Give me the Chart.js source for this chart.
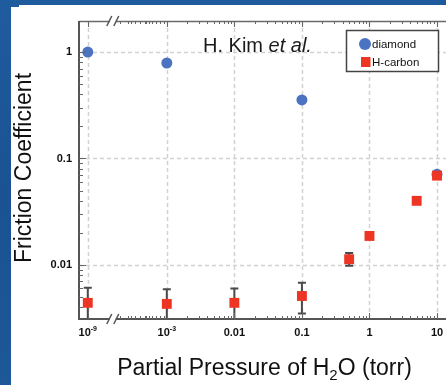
<!DOCTYPE html>
<html>
<head>
<meta charset="utf-8">
<script src="https://cdn.jsdelivr.net/npm/chart.js@4/dist/chart.umd.min.js"></script>
<style>
  html, body { margin: 0; padding: 0; background: #fff; }
  #wrap { width: 446px; height: 385px; position: relative; }
</style>
</head>
<body>
<div id="wrap"><canvas id="c" width="446" height="385"></canvas></div>
<script>
// Friction coefficient vs. water vapour partial pressure (torr)
const diamondPressure = [1e-9, 1e-3, 0.1, 10];
const diamondFriction = [1.0, 0.79, 0.355, 0.071];

const carbonPressure = [1e-9, 1e-3, 0.01, 0.1, 0.5, 1, 5, 10];
const carbonFriction = [0.0044, 0.0043, 0.0044, 0.0051, 0.0113, 0.0187, 0.040, 0.069];
const carbonErrLow   = [0.0020, 0.0020, 0.0020, 0.0035, 0.0098, 0.0176, 0.0385, 0.067];
const carbonErrHigh  = [0.0061, 0.0059, 0.0060, 0.0068, 0.0129, 0.0198, 0.0415, 0.071];

const xTickPressure = [1e-9, 1e-3, 0.01, 0.1, 1, 10];
const xTickLabels = [['10', '-9'], ['10', '-3'], ['0.01'], ['0.1'], ['1'], ['10']];
const yTickValues = [0.01, 0.1, 1];
const yTickLabels = ['0.01', '0.1', '1'];

const FONT = '"Liberation Sans", Arial, sans-serif';
const BLUE = '#4b73c2';
const RED = '#ee3524';

// The pressure axis is broken between 1e-9 and 1e-3 torr
const BREAK_SHIFT = 4.83;
function xPos(p) {
  const l = Math.log10(p);
  return l < -3 ? l + BREAK_SHIFT : l;
}
const BREAK_AT = -3.80; // axis position of the "//" mark

const diamondPoints = diamondPressure.map((p, i) => ({ x: xPos(p), y: diamondFriction[i] }));
const carbonPoints = carbonPressure.map((p, i) => ({ x: xPos(p), y: carbonFriction[i] }));

const decor = {
  id: 'decor',
  beforeDraw(chart) {
    const ctx = chart.ctx;
    ctx.save();
    const g = ctx.createLinearGradient(0, 0, 30, 385);
    g.addColorStop(0, '#1f5c9e');
    g.addColorStop(0.5, '#1a5293');
    g.addColorStop(1, '#1d5898');
    ctx.fillStyle = g;
    ctx.fillRect(0, 0, chart.width, chart.height);
    ctx.fillStyle = '#ffffff';
    ctx.fillRect(11, 7, chart.width - 11, chart.height - 7);
    ctx.fillRect(19, 5, chart.width - 19, 3);
    ctx.restore();
  },
  beforeDatasetsDraw(chart) {
    const { ctx, chartArea: a, scales: { x, y } } = chart;
    ctx.save();
    // dotted grid at the labelled ticks
    ctx.strokeStyle = '#d2d2d2';
    ctx.lineWidth = 1.5;
    ctx.setLineDash([4, 3]);
    xTickPressure.forEach(p => {
      const px = Math.round(x.getPixelForValue(xPos(p))) + 0.5;
      ctx.beginPath(); ctx.moveTo(px, a.top); ctx.lineTo(px, a.bottom); ctx.stroke();
    });
    yTickValues.forEach(v => {
      const py = Math.round(y.getPixelForValue(v)) + 0.5;
      ctx.beginPath(); ctx.moveTo(a.left, py); ctx.lineTo(a.right, py); ctx.stroke();
    });
    ctx.setLineDash([]);
    // error bars for the H-carbon series
    ctx.beginPath();
    ctx.rect(a.left, a.top, a.right - a.left, a.bottom - a.top);
    ctx.clip();
    ctx.strokeStyle = '#4a4a4a';
    ctx.lineWidth = 2;
    carbonPressure.forEach((p, i) => {
      const px = x.getPixelForValue(xPos(p));
      const lo = y.getPixelForValue(carbonErrLow[i]);
      const hi = y.getPixelForValue(carbonErrHigh[i]);
      ctx.beginPath();
      ctx.moveTo(px, lo); ctx.lineTo(px, hi);
      ctx.moveTo(px - 4, lo); ctx.lineTo(px + 4, lo);
      ctx.moveTo(px - 4, hi); ctx.lineTo(px + 4, hi);
      ctx.stroke();
    });
    ctx.restore();
  },
  afterDatasetsDraw(chart) {
    const { ctx, chartArea: a, scales: { x, y } } = chart;
    ctx.save();
    const breakPx = x.getPixelForValue(BREAK_AT);

    // minor tick positions along the pressure axis
    const xMinor = [];
    for (let k = 2; k <= 9; k++) xMinor.push(xPos(k * 1e-9));
    for (let d = -4; d <= 1; d++) for (let k = 2; k <= 9; k++) xMinor.push(Math.log10(k) + d);
    const xMajor = xTickPressure.map(xPos);

    // frame
    ctx.lineCap = 'butt';
    ctx.strokeStyle = '#6a6a6a';
    ctx.lineWidth = 1.5;
    ctx.beginPath(); ctx.moveTo(a.left, a.top + 0.5); ctx.lineTo(a.right, a.top + 0.5); ctx.stroke();
    ctx.strokeStyle = '#555555';
    ctx.lineWidth = 2;
    ctx.beginPath(); ctx.moveTo(a.left, a.bottom); ctx.lineTo(a.right, a.bottom); ctx.stroke();
    ctx.beginPath(); ctx.moveTo(a.left, a.top); ctx.lineTo(a.left, a.bottom + 1); ctx.stroke();

    // x ticks (inward, top and bottom)
    ctx.lineWidth = 1;
    ctx.strokeStyle = '#666';
    const xt = (v, len) => {
      const px = Math.round(x.getPixelForValue(v)) + 0.5;
      if (px < a.left + 2 || px > a.right) return;
      if (Math.abs(px - breakPx) < 6) return;
      ctx.beginPath();
      ctx.moveTo(px, a.bottom); ctx.lineTo(px, a.bottom - len);
      ctx.moveTo(px, a.top); ctx.lineTo(px, a.top + len);
      ctx.stroke();
    };
    xMinor.forEach(v => xt(v, 3));
    xMajor.forEach(v => xt(v, 6));

    // y ticks (inward from the left axis)
    for (let d = -3; d <= 0; d++) {
      for (let k = 1; k <= 9; k++) {
        const v = k * Math.pow(10, d);
        if (v < y.min || v > y.max) continue;
        const py = Math.round(y.getPixelForValue(v)) + 0.5;
        ctx.beginPath();
        ctx.moveTo(a.left, py); ctx.lineTo(a.left + (k === 1 ? 7 : 4), py);
        ctx.stroke();
      }
    }

    // axis-break marks
    [a.top, a.bottom].forEach(yy => {
      ctx.fillStyle = '#ffffff';
      ctx.fillRect(breakPx - 3, yy - 2, 6, 4);
      ctx.strokeStyle = '#555';
      ctx.lineWidth = 1.5;
      ctx.beginPath();
      ctx.moveTo(breakPx - 6, yy + 5); ctx.lineTo(breakPx - 1, yy - 5);
      ctx.moveTo(breakPx + 1, yy + 5); ctx.lineTo(breakPx + 6, yy - 5);
      ctx.stroke();
    });

    // pressure tick labels, with powers of ten as superscripts
    ctx.fillStyle = '#111';
    ctx.textBaseline = 'alphabetic';
    xTickPressure.forEach((p, i) => {
      const px = x.getPixelForValue(xPos(p));
      const lab = xTickLabels[i];
      const base = 336;
      ctx.font = 'bold 11px ' + FONT;
      if (lab.length === 1) {
        ctx.textAlign = 'center';
        ctx.fillText(lab[0], px, base);
      } else {
        const w1 = ctx.measureText(lab[0]).width;
        ctx.font = 'bold 7px ' + FONT;
        const w2 = ctx.measureText(lab[1]).width;
        const left = px - (w1 + w2) / 2;
        ctx.textAlign = 'left';
        ctx.font = 'bold 11px ' + FONT;
        ctx.fillText(lab[0], left, base);
        ctx.font = 'bold 7px ' + FONT;
        ctx.fillText(lab[1], left + w1, base - 5);
      }
    });

    // annotation
    ctx.fillStyle = '#1a1a1a';
    ctx.textAlign = 'left';
    ctx.font = '20px ' + FONT;
    const t1 = 'H. Kim ';
    ctx.fillText(t1, 203, 52);
    const w1 = ctx.measureText(t1).width;
    ctx.font = 'italic 20px ' + FONT;
    ctx.fillText('et al.', 203 + w1, 52);

    // legend
    ctx.fillStyle = '#fff';
    ctx.fillRect(346, 30, 93, 42);
    ctx.strokeStyle = '#444';
    ctx.lineWidth = 1.5;
    ctx.strokeRect(346.5, 30.5, 92, 41);
    ctx.fillStyle = BLUE;
    ctx.beginPath(); ctx.arc(365, 44, 6, 0, Math.PI * 2); ctx.fill();
    ctx.fillStyle = RED;
    ctx.fillRect(361, 57, 9.5, 10);
    ctx.fillStyle = '#111';
    ctx.font = '11.5px ' + FONT;
    ctx.textBaseline = 'middle';
    ctx.fillText(chart.data.datasets[1].label, 372, 44.5);
    ctx.fillText(chart.data.datasets[0].label, 372, 62.5);

    // axis titles
    ctx.fillStyle = '#111';
    ctx.font = '23px ' + FONT;
    ctx.textBaseline = 'alphabetic';
    ctx.save();
    ctx.translate(31, 168);
    ctx.rotate(-Math.PI / 2);
    ctx.textAlign = 'center';
    ctx.fillText('Friction Coefficient', 0, 0);
    ctx.restore();

    const parts = [['Partial Pressure of H', 23, 0], ['2', 15, 5], ['O (torr)', 23, 0]];
    let total = 0;
    parts.forEach(pt => { ctx.font = pt[1] + 'px ' + FONT; total += ctx.measureText(pt[0]).width; });
    let cx = 264.5 - total / 2;
    ctx.textAlign = 'left';
    parts.forEach(pt => {
      ctx.font = pt[1] + 'px ' + FONT;
      ctx.fillText(pt[0], cx, 375 + pt[2]);
      cx += ctx.measureText(pt[0]).width;
    });
    ctx.restore();
  }
};

new Chart(document.getElementById('c'), {
  type: 'scatter',
  data: {
    datasets: [
      {
        label: 'H-carbon',
        data: carbonPoints,
        order: 0,
        pointStyle: 'rect',
        pointRadius: 7,
        pointHoverRadius: 7,
        backgroundColor: RED,
        borderColor: RED,
        borderWidth: 0
      },
      {
        label: 'diamond',
        data: diamondPoints,
        order: 1,
        pointStyle: 'circle',
        pointRadius: 5.5,
        pointHoverRadius: 5.5,
        backgroundColor: BLUE,
        borderColor: BLUE,
        borderWidth: 0
      }
    ]
  },
  options: {
    responsive: false,
    animation: false,
    events: [],
    layout: { autoPadding: false, padding: { left: 0, top: 21, right: 0, bottom: 0 } },
    plugins: { legend: { display: false }, tooltip: { enabled: false } },
    scales: {
      x: {
        type: 'linear',
        min: -4.30,
        max: 1.133,
        grid: { display: false, drawTicks: false },
        border: { display: false },
        ticks: { display: false },
        afterFit(s) { s.height = 66; }
      },
      y: {
        type: 'logarithmic',
        min: 0.0031,
        max: 1.96,
        grid: { display: false, drawTicks: false },
        border: { display: false },
        afterBuildTicks(s) { s.ticks = yTickValues.map(v => ({ value: v })); },
        ticks: {
          padding: 7,
          color: '#111',
          font: { family: FONT, size: 11, weight: 'bold' },
          callback: (v) => {
            const i = yTickValues.findIndex(t => Math.abs(t - v) / t < 1e-6);
            return i >= 0 ? yTickLabels[i] : '';
          }
        },
        afterFit(s) { s.width = 79; }
      }
    }
  },
  plugins: [decor]
});
</script>
</body>
</html>
